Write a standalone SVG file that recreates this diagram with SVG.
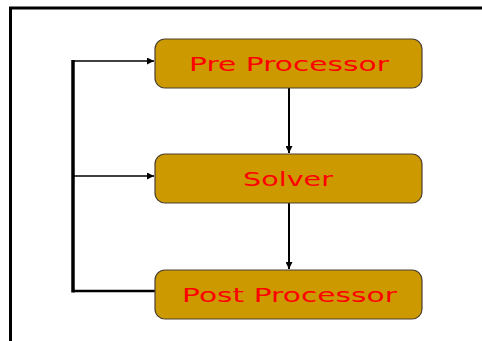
<svg xmlns="http://www.w3.org/2000/svg" width="482" height="341" viewBox="0 0 482 341">
<style>
.box{fill:#CC9900;stroke:#4a4030;stroke-width:1.2}
.lbl{font-family:"DejaVu Sans",sans-serif;font-size:19.5px;fill:#FF0000;text-anchor:middle}
.c{stroke:#000;fill:none}
</style>
<defs>
<marker id="ah" viewBox="0 0 10 10" refX="10" refY="5" markerWidth="9" markerHeight="7" markerUnits="userSpaceOnUse" orient="auto">
<path d="M0,0 L10,5 L0,10 z" fill="#000"/>
</marker>
</defs>
<rect x="0" y="0" width="482" height="341" fill="#fff"/>
<path d="M10.5,341 V8 H482" fill="none" stroke="#000" stroke-width="3"/>
<g id="connectors">
<path class="c" d="M73,292.5 V60" stroke-width="3.5"/>
<path class="c" d="M73,291 H155" stroke-width="2.5"/>
<path class="c" d="M73,61 H154" stroke-width="1.3" marker-end="url(#ah)"/>
<path class="c" d="M73,176 H154" stroke-width="1.3" marker-end="url(#ah)"/>
<path class="c" d="M289,88 V153" stroke-width="2" marker-end="url(#ah)"/>
<path class="c" d="M289,203 V269" stroke-width="2" marker-end="url(#ah)"/>
</g>
<g id="pre">
<rect class="box" x="155" y="39" width="267" height="49" rx="10"/>
<text class="lbl" x="289" y="70.5" textLength="200" lengthAdjust="spacingAndGlyphs">Pre Processor</text>
</g>
<g id="solver">
<rect class="box" x="155" y="154" width="267" height="49" rx="10"/>
<text class="lbl" x="288" y="186" textLength="90" lengthAdjust="spacingAndGlyphs">Solver</text>
</g>
<g id="post">
<rect class="box" x="155" y="270" width="267" height="49" rx="10"/>
<text class="lbl" x="289.5" y="302" textLength="215" lengthAdjust="spacingAndGlyphs">Post Processor</text>
</g>
</svg>
